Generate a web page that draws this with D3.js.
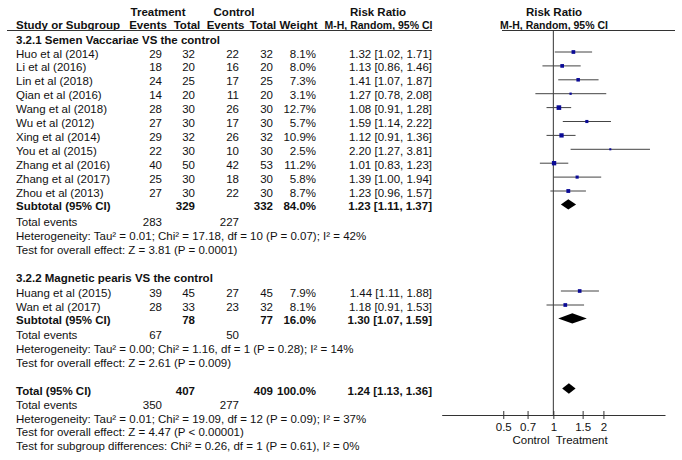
<!DOCTYPE html>
<html><head><meta charset="utf-8">
<script src="https://cdn.jsdelivr.net/npm/d3@7"></script>
<style>
body{margin:0;background:#fff}
svg{display:block}
text{font-family:Arial,"Liberation Sans",sans-serif;font-size:11.5px;fill:#111}
.b{font-weight:bold}
</style>
</head><body>
<svg id="c" width="682" height="460"></svg>
<script>
// ---- data ----
const group1Title = "3.2.1 Semen Vaccariae VS the control";
const group1Studies = ["Huo et al (2014)","Li et al (2016)","Lin et al (2018)","Qian et al (2016)","Wang et al (2018)","Wu et al (2012)","Xing et al (2014)","You et al (2015)","Zhang et al (2016)","Zhang et al (2017)","Zhou et al (2013)"];
const group1TEvents = [29,18,24,14,28,27,29,22,40,25,27];
const group1TTotal  = [32,20,25,20,30,30,32,30,50,30,30];
const group1CEvents = [22,16,17,11,26,17,26,10,42,18,22];
const group1CTotal  = [32,20,25,20,30,30,32,30,53,30,30];
const group1Weight  = [8.1,8.0,7.3,3.1,12.7,5.7,10.9,2.5,11.2,5.8,8.7];
const group1RR      = [1.32,1.13,1.41,1.27,1.08,1.59,1.12,2.20,1.01,1.39,1.23];
const group1Lo      = [1.02,0.86,1.07,0.78,0.91,1.14,0.91,1.27,0.83,1.00,0.96];
const group1Hi      = [1.71,1.46,1.87,2.08,1.28,2.22,1.36,3.81,1.23,1.94,1.57];
const group1Sub     = {tTotal:329,cTotal:332,weight:"84.0%",rr:1.23,lo:1.11,hi:1.37,tEv:283,cEv:227};
const group1Het  = "Heterogeneity: Tau\u00b2 = 0.01; Chi\u00b2 = 17.18, df = 10 (P = 0.07); I\u00b2 = 42%";
const group1Test = "Test for overall effect: Z = 3.81 (P = 0.0001)";

const group2Title = "3.2.2 Magnetic pearis VS the control";
const group2Studies = ["Huang et al (2015)","Wan et al (2017)"];
const group2TEvents = [39,28];
const group2TTotal  = [45,33];
const group2CEvents = [27,23];
const group2CTotal  = [45,32];
const group2Weight  = [7.9,8.1];
const group2RR      = [1.44,1.18];
const group2Lo      = [1.11,0.91];
const group2Hi      = [1.88,1.53];
const group2Sub     = {tTotal:78,cTotal:77,weight:"16.0%",rr:1.30,lo:1.07,hi:1.59,tEv:67,cEv:50};
const group2Het  = "Heterogeneity: Tau\u00b2 = 0.00; Chi\u00b2 = 1.16, df = 1 (P = 0.28); I\u00b2 = 14%";
const group2Test = "Test for overall effect: Z = 2.61 (P = 0.009)";

const overall = {tTotal:407,cTotal:409,weight:"100.0%",rr:1.24,lo:1.13,hi:1.36,tEv:350,cEv:277};
const overallHet  = "Heterogeneity: Tau\u00b2 = 0.01; Chi\u00b2 = 19.09, df = 12 (P = 0.09); I\u00b2 = 37%";
const overallTest = "Test for overall effect: Z = 4.47 (P < 0.00001)";
const subgroupTest = "Test for subgroup differences: Chi\u00b2 = 0.26, df = 1 (P = 0.61), I\u00b2 = 0%";

const tickValues = [0.5,0.7,1,1.5,2];
const axisLabels = ["Control","Treatment"];

// ---- layout ----
const svg = d3.select("#c");
const x = d3.scaleLog().domain([0.2133, 4.69]).range([441.7, 665]);
const col = {name:16, tEv:162, tTot:195, cEv:239, cTot:273, w:316, ci:432};
const fmt2 = d3.format(".2f");
const ciText = (r,l,h)=>`${fmt2(r)} [${fmt2(l)}, ${fmt2(h)}]`;
const lineC = "#333";

function txt(s, xx, yc, anchor, bold){
  return svg.append("text").attr("x",xx).attr("y",yc+4).attr("text-anchor",anchor||"start")
    .attr("class",bold?"b":null).text(s);
}

// headers
txt("Treatment",158,11.7,"middle",true);
txt("Control",234,11.7,"middle",true);
txt("Risk Ratio",378,11.7,"middle",true);
txt("Risk Ratio",554,11.7,"middle",true);
txt("Study or Subgroup",16,25,"start",true);
txt("Events",148,25,"middle",true);
txt("Total",187,25,"middle",true);
txt("Events",225.5,25,"middle",true);
txt("Total",263,25,"middle",true);
txt("Weight",298.5,25,"middle",true);
txt("M-H, Random, 95% CI",378.5,25,"middle",true).style("font-size","10.5px");
txt("M-H, Random, 95% CI",554,25,"middle",true).style("font-size","10.5px");
svg.append("line").attr("x1",7).attr("x2",432).attr("y1",30.5).attr("y2",30.5).attr("stroke",lineC);
svg.append("line").attr("x1",502).attr("x2",675).attr("y1",30.5).attr("y2",30.5).attr("stroke",lineC);

// null line
svg.append("line").attr("x1",x(1)).attr("x2",x(1)).attr("y1",30).attr("y2",415).attr("stroke",lineC);

const markerColor = "#0a0a96";
function studyRow(name,te,tt,ce,ct,w,rr,lo,hi,yc){
  txt(name,col.name,yc);
  txt(te,col.tEv,yc,"end"); txt(tt,col.tTot,yc,"end");
  txt(ce,col.cEv,yc,"end"); txt(ct,col.cTot,yc,"end");
  txt(w.toFixed(1)+"%",col.w,yc,"end");
  txt(ciText(rr,lo,hi),col.ci,yc,"end");
  const my = yc-1.5;
  svg.append("line").attr("x1",x(lo)).attr("x2",x(hi)).attr("y1",my).attr("y2",my).attr("stroke","#444").attr("stroke-width",1);
  const s = 1.3*Math.sqrt(w);
  svg.append("rect").attr("x",x(rr)-s/2).attr("y",my-s/2).attr("width",s).attr("height",s).attr("fill",markerColor);
}
function diamond(rr,lo,hi,my){
  const h=5.2;
  svg.append("path").attr("d",`M${x(lo)},${my}L${x(rr)},${my-h}L${x(hi)},${my}L${x(rr)},${my+h}Z`).attr("fill","#000");
}
function subRow(label,s,yc){
  txt(label,col.name,yc,"start",true);
  txt(s.tTotal,col.tTot,yc,"end",true);
  txt(s.cTotal,col.cTot,yc,"end",true);
  txt(s.weight,col.w,yc,"end",true);
  txt(ciText(s.rr,s.lo,s.hi),col.ci,yc,"end",true);
  diamond(s.rr,s.lo,s.hi,yc-2);
}
function eventsRow(s,yc){
  txt("Total events",col.name,yc);
  txt(s.tEv,col.tEv,yc,"end");
  txt(s.cEv,col.cEv,yc,"end");
}

// group 1
txt(group1Title,16,39.6,"start",true);
const yRow1 = d3.scaleLinear().domain([0,1]).range([53.5,67.4]);
group1Studies.forEach((n,i)=>studyRow(n,group1TEvents[i],group1TTotal[i],group1CEvents[i],group1CTotal[i],group1Weight[i],group1RR[i],group1Lo[i],group1Hi[i],yRow1(i)));
subRow("Subtotal (95% CI)",group1Sub,yRow1(11));
eventsRow(group1Sub,222);
txt(group1Het,16,236);
txt(group1Test,16,250);

// group 2
txt(group2Title,16,278,"start",true);
const yRow2 = d3.scaleLinear().domain([0,1]).range([292.5,306.5]);
group2Studies.forEach((n,i)=>studyRow(n,group2TEvents[i],group2TTotal[i],group2CEvents[i],group2CTotal[i],group2Weight[i],group2RR[i],group2Lo[i],group2Hi[i],yRow2(i)));
subRow("Subtotal (95% CI)",group2Sub,320.4);
eventsRow(group2Sub,335);
txt(group2Het,16,349);
txt(group2Test,16,363);

// overall
subRow("Total (95% CI)",overall,390.5);
eventsRow(overall,405);
txt(overallHet,16,418.5);
txt(overallTest,16,432);
txt(subgroupTest,16,445.5);

// axis
const ax = svg.append("g").attr("transform","translate(0,415)")
  .call(d3.axisBottom(x).tickValues(tickValues).tickFormat(d=>String(d)).tickSizeOuter(0).tickSizeInner(4).tickPadding(4));
ax.select(".domain").attr("stroke",lineC);
ax.selectAll(".tick line").attr("y1",-4).attr("y2",4).attr("stroke",lineC);
ax.selectAll(".tick text").attr("font-family",null).attr("font-size",null).attr("fill","#111");
txt(axisLabels[0],531,440,"middle");
txt(axisLabels[1],581.7,440,"middle");
</script>
</body></html>
